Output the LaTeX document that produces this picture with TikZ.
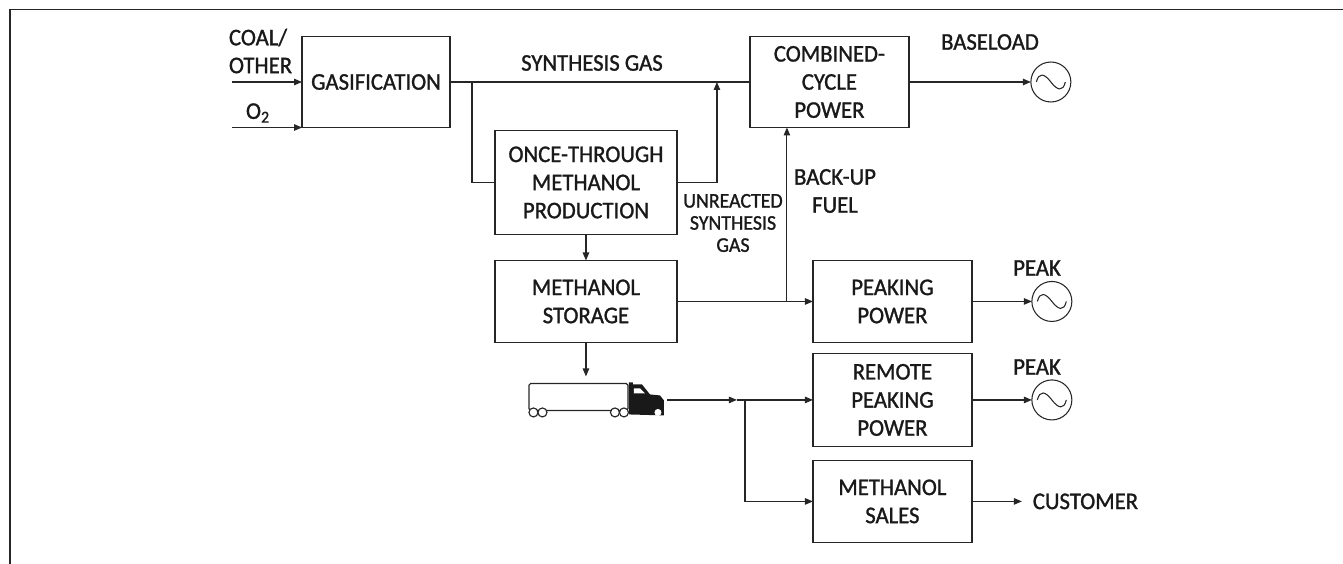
\documentclass[tikz,border=0pt]{standalone}
\usepackage{fontspec}
\setmainfont{Carlito}[FakeStretch=0.95, FakeBold=1.2]
\usepackage{tikz}
\usetikzlibrary{arrows.meta, positioning}

\begin{document}
\begin{tikzpicture}[
  x=0.02cm, y=-0.02cm,
  node distance=0.5cm and 0.9cm,
  every node/.style={font=\fontsize{13.6}{15}\selectfont, text=black!90},
  block/.style={draw=black!85, line width=0.7pt, inner sep=0pt, outer sep=0pt, minimum width=3.18cm, minimum height=1.64cm, align=center},
  label/.style={inner sep=0pt, outer sep=0pt, align=center},
  gen/.style={draw=black!85, line width=0.6pt, circle, inner sep=0pt, outer sep=0pt, minimum size=0.8cm},
  line/.style={draw=black!85, line width=0.65pt},
  arrow/.style={line, -{Stealth[length=0.16cm, width=0.13cm, inset=0pt]}}
]
  \useasboundingbox (0,0) rectangle (1343,564);
  \draw[line] (10,564) -- (10,9.5) -- (1343,9.5);

  \node[block, minimum width=2.96cm, minimum height=1.82cm] (gas) at (376,82) {GASIFICATION};
  \node[block, right=6cm of gas, minimum height=1.82cm] (comb) {COMBINED-\\[1pt]CYCLE\\[1pt]POWER};
  \node[block, below right=0.06cm and 0.9cm of gas, minimum width=3.64cm, minimum height=2.08cm] (once) {ONCE-THROUGH\\[1pt]METHANOL\\[1pt]PRODUCTION};
  \node[block, below=0.52cm of once, minimum width=3.64cm] (store) {METHANOL\\[1pt]STORAGE};
  \node[block, right=2.72cm of store] (peak) {PEAKING\\[1pt]POWER};
  \node[block, below=0.22cm of peak, minimum height=1.86cm] (remote) {REMOTE\\[1pt]PEAKING\\[1pt]POWER};
  \node[block, below=0.28cm of remote] (sales) {METHANOL\\[1pt]SALES};

  \node[gen, right=2.44cm of comb] (genbase) {};
  \node[gen, right=1.2cm of peak] (genpeak) {};
  \node[gen, right=1.2cm of remote] (genremote) {};
  \foreach \g in {genbase, genpeak, genremote}
    \draw[line width=0.6pt, draw=black!85] ([xshift=-0.29cm]\g.center) .. controls +(0.05cm,0.2cm) and +(-0.13cm,0.17cm) .. (\g.center) .. controls +(0.13cm,-0.17cm) and +(-0.05cm,-0.2cm) .. ([xshift=0.29cm]\g.center);

  \node[label, anchor=west] (coal) at (229,37.5) {COAL/};
  \node[label, below=0.56cm of coal.west, anchor=west] (other) {OTHER};
  \node[label] (oxylabel) at (258,113) {O\textsubscript{2}};
  \node[label] (syngas) at (592,63) {SYNTHESIS GAS};
  \node[label] (baseload) at (990,42) {BASELOAD};
  \node[label] (backup) at (835,191) {BACK-UP\\[1pt]FUEL};
  \node[label, font=\fontsize{11.9}{12.6}\selectfont] (unreacted) at (733,223) {UNREACTED\\SYNTHESIS\\GAS};
  \node[label] (peaktop) at (1037,268) {PEAK};
  \node[label] (peaklow) at (1037,367) {PEAK};
  \node[label, right=1.22cm of sales] (customer) {CUSTOMER};

  \coordinate[left=1.4cm of gas] (coalin);
  \coordinate[left=1.4cm of gas.south west] (oxyin);
  \coordinate[right=0.44cm of gas] (split);
  \coordinate[right=5.34cm of gas] (unreact);
  \coordinate[right=2.2cm of store] (fuel);
  \coordinate[below=0.68cm of store] (truck);
  \coordinate[left=2.91cm of remote] (truckout);
  \coordinate[left=1.52cm of remote] (tiptruck);
  \coordinate[left=1.36cm of remote] (branch);
  \coordinate[left=0.22cm of customer] (custin);

  % truck
  \begin{scope}[shift={(truck)}]
    \draw[line, rounded corners=1pt] (42,34) -- (42,7) -- (-57,7) -- (-57,34) -- cycle;
    \fill[black!90] (43,6) -- (47,6) -- (47,8) -- (56,8) -- (64,18) -- (74,19) -- (78,24) -- (78,39) -- (43,38) -- cycle;
    \fill[white] (48,12) -- (54,12) -- (59,17) -- (48,17) -- cycle;
    \foreach \wx in {-52.5,-43.5,29,38}
      \draw[line, fill=white] (\wx,36) circle (4.5);
    \fill[white] (72,36) circle (3.5);
  \end{scope}

  \draw[arrow] (coalin) -- (gas);
  \draw[arrow] (oxyin) -- (gas.south west);
  \draw[line] (gas) -- (comb);
  \draw[line] (split) |- (once);
  \draw[arrow] (once) -| (unreact);
  \draw[arrow] (once) -- (store);
  \draw[arrow] (store) -- (peak);
  \draw[arrow] (fuel) -- (fuel |- comb.south);
  \draw[arrow] (store) -- (truck);
  \draw[arrow] (truckout) -- (tiptruck);
  \draw[arrow] (tiptruck) -- (remote);
  \draw[arrow] (branch) |- (sales);
  \draw[arrow] (comb) -- (genbase);
  \draw[arrow] (peak) -- (genpeak);
  \draw[arrow] (remote) -- (genremote);
  \draw[arrow] (sales) -- (custin);
\end{tikzpicture}
\end{document}
